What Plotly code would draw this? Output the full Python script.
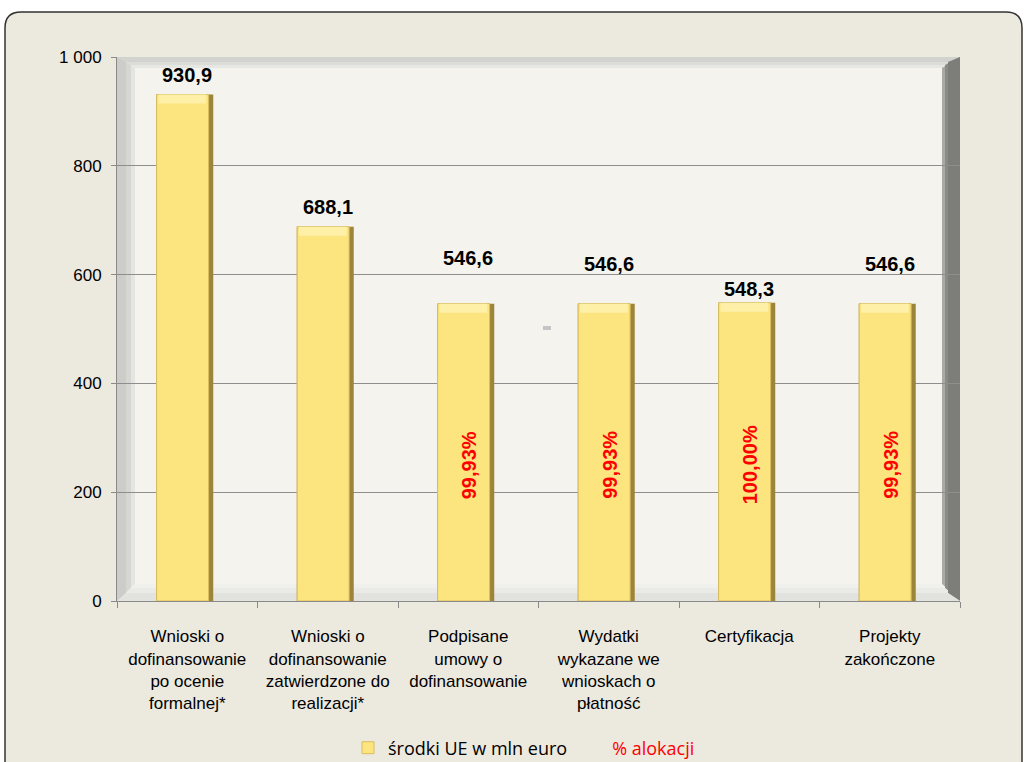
import plotly.graph_objects as go

# --- data -------------------------------------------------------------
categories = [
    "Wnioski o<br>dofinansowanie<br>po ocenie<br>formalnej*",
    "Wnioski o<br>dofinansowanie<br>zatwierdzone do<br>realizacji*",
    "Podpisane<br>umowy o<br>dofinansowanie",
    "Wydatki<br>wykazane we<br>wnioskach o<br>płatność",
    "Certyfikacja",
    "Projekty<br>zakończone",
]
funds_meur = [930.9, 688.1, 546.6, 546.6, 548.3, 546.6]
allocation_pct = [None, None, 99.93, 99.93, 100.00, 99.93]
y_ticks = [0, 200, 400, 600, 800, 1000]

series_name = "środki UE w mln euro"
pct_name = "% alokacji"

# --- layout geometry (pixels) ------------------------------------------
W, H = 1024, 762
L, R, T, B = 117, 64, 57, 161
PW, PH = W - L - R, H - T - B
label_lift_px = [20, 20, 46, 40, 14, 40]
cap_px = 9  # height of the light bevel on top of each bar


def fx(px):
    return (px - L) / PW


def fy(py):
    return (H - B - py) / PH


def fmt_pl(v, nd):
    return f"{v:.{nd}f}".replace(".", ",")


cap_units = cap_px * 1000 / PH

fig = go.Figure()

# Bars: darker body, lighter face and a pale top bevel
fig.add_trace(go.Bar(
    x=categories, y=funds_meur, width=0.405, offset=-0.22,
    marker=dict(color="#9C843A", line=dict(width=0)),
    showlegend=False, hoverinfo="skip",
))
fig.add_trace(go.Bar(
    x=categories, y=funds_meur, width=0.37, offset=-0.218,
    marker=dict(color="#FCE47F", line=dict(color="#D8BD60", width=1)),
    name=series_name, showlegend=True,
))
fig.add_trace(go.Bar(
    x=categories, y=[cap_units] * len(funds_meur),
    base=[v - cap_units for v in funds_meur],
    width=0.34, offset=-0.205,
    marker=dict(color="#FFF0A8", line=dict(width=0)),
    showlegend=False, hoverinfo="skip",
))
fig.add_trace(go.Scatter(
    x=[categories[0]], y=[None], mode="lines",
    line=dict(width=0, color="rgba(0,0,0,0)"),
    name=f"<span style='color:#FF0000'>{pct_name}</span>",
    showlegend=True, hoverinfo="skip",
))

annotations = []
for cat, v, lift in zip(categories, funds_meur, label_lift_px):
    annotations.append(dict(
        x=cat, y=v, xref="x", yref="y", text=fmt_pl(v, 1),
        showarrow=False, yanchor="middle", yshift=lift,
        font=dict(family="Liberation Sans", size=20, color="#000000", weight="bold"),
    ))
for cat, p in zip(categories, allocation_pct):
    if p is None:
        continue
    annotations.append(dict(
        x=cat, y=250, xref="x", yref="y", text=fmt_pl(p, 2) + "%",
        showarrow=False, textangle=-90, xshift=1,
        font=dict(family="Liberation Sans", size=20, color="#FF0000", weight="bold"),
    ))

# --- shapes: outer rounded frame and bevelled chart walls ---------------
shapes = []
x0, y0, x1, y1, rad = 5, 12, 1022, 790, 16
rx, ry = rad / PW, rad / PH
X0, X1, Y0, Y1 = fx(x0), fx(x1), fy(y0), fy(y1)
frame_path = (
    f"M {X0+rx},{Y0} L {X1-rx},{Y0} Q {X1},{Y0} {X1},{Y0-ry} "
    f"L {X1},{Y1+ry} Q {X1},{Y1} {X1-rx},{Y1} L {X0+rx},{Y1} "
    f"Q {X0},{Y1} {X0},{Y1+ry} L {X0},{Y0-ry} Q {X0},{Y0} {X0+rx},{Y0} Z"
)
shapes.append(dict(type="path", path=frame_path, xref="paper", yref="paper",
                   fillcolor="#ECE9DF", line=dict(color="#333333", width=1.5),
                   layer="below"))

# back wall
shapes.append(dict(type="rect", xref="paper", yref="paper", x0=0, x1=1, y0=0, y1=1,
                   fillcolor="#F4F3EE", line=dict(width=0), layer="below"))


def bevel(lw, tw, rw, bw, colors):
    l, t, r, b = lw / PW, tw / PH, rw / PW, bw / PH
    polys = {
        "left": [(0, 0), (0, 1), (l, 1 - t), (l, b)],
        "top": [(0, 1), (1, 1), (1 - r, 1 - t), (l, 1 - t)],
        "right": [(1, 1), (1, 0), (1 - r, b), (1 - r, 1 - t)],
        "bottom": [(0, 0), (1, 0), (1 - r, b), (l, b)],
    }
    for side, pts in polys.items():
        p = "M " + " L ".join(f"{a},{c}" for a, c in pts) + " Z"
        shapes.append(dict(type="path", path=p, xref="paper", yref="paper",
                           fillcolor=colors[side], line=dict(width=0), layer="below"))


bevel(18, 11, 18, 17, dict(left="#E4E4E0", top="#E6E6E2", right="#A9A9A5", bottom="#F0F0EC"))
bevel(14, 8, 15, 13, dict(left="#D6D6D2", top="#DCDCD8", right="#8A8A86", bottom="#EAEAE6"))
bevel(9, 5, 12, 8, dict(left="#CCCCC8", top="#D2D2CE", right="#7D7D79", bottom="#E2E2DE"))

# small mark on the back wall
shapes.append(dict(type="rect", xref="paper", yref="paper",
                   x0=fx(543), x1=fx(551), y0=fy(330), y1=fy(326),
                   fillcolor="#C4C4C4", line=dict(width=0), layer="below"))

axis_font = dict(family="Liberation Sans", size=17, color="#000000")

fig.update_layout(
    width=W, height=H,
    margin=dict(l=L, r=R, t=T, b=B, autoexpand=False),
    paper_bgcolor="#FFFFFF", plot_bgcolor="rgba(0,0,0,0)",
    barmode="overlay", separators=", ",
    shapes=shapes, annotations=annotations,
    legend=dict(orientation="h", x=fx(524), xanchor="center", y=fy(748), yanchor="middle",
                bgcolor="rgba(0,0,0,0)", itemwidth=30,
                font=dict(family="Open Sans", size=18, color="#000000")),
    xaxis=dict(
        type="category", tickson="boundaries", ticks="outside", ticklen=6,
        tickcolor="#8A8A8A", showline=True, linecolor="#8A8A8A", linewidth=1,
        showgrid=False, tickfont=axis_font, tickangle=0, range=[-0.5, 5.5],
        ticklabelstandoff=20,
    ),
    yaxis=dict(
        range=[0, 1000], tickvals=y_ticks, tickformat=",d",
        ticks="outside", ticklen=5, tickcolor="#8A8A8A",
        showline=True, linecolor="#8A8A8A", linewidth=1,
        showgrid=True, gridcolor="#8E8E8E", gridwidth=1,
        tickfont=axis_font, ticklabelstandoff=6, zeroline=False,
    ),
)

fig.write_html("out.html")
